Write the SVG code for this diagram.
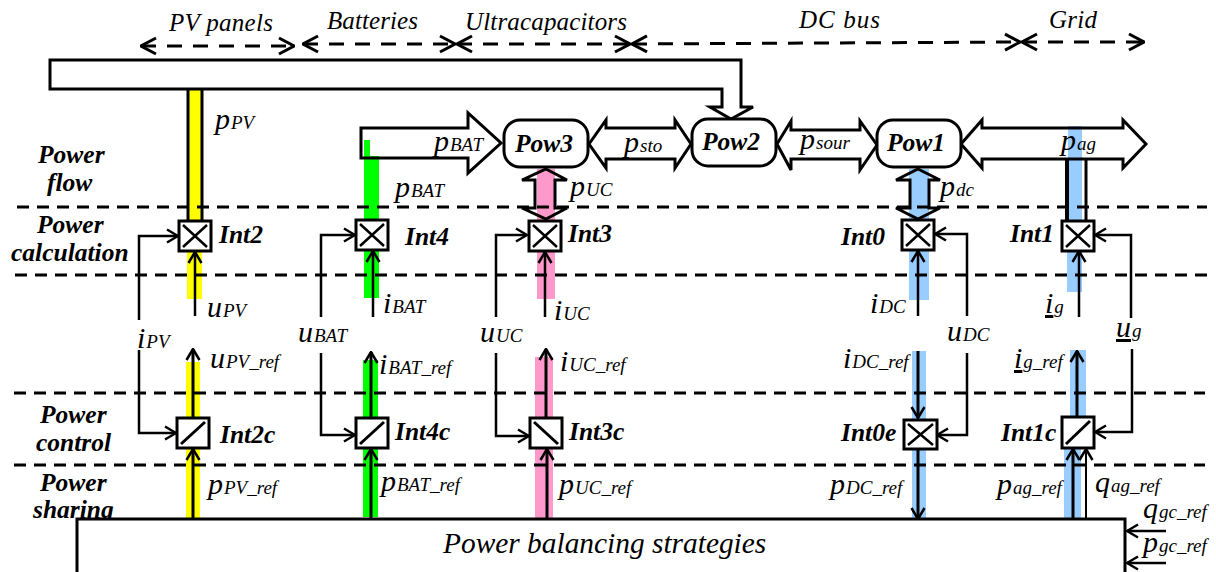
<svg xmlns="http://www.w3.org/2000/svg" width="1216" height="572" viewBox="0 0 1216 572">
<defs>
<marker id="ah" viewBox="0 0 14 16" refX="13" refY="8" markerWidth="14" markerHeight="16" markerUnits="userSpaceOnUse" orient="auto-start-reverse"><path d="M2 1.500 L13 8 L2 14.500" fill="none" stroke="#000" stroke-width="2.500"/></marker>
<marker id="sh" viewBox="0 0 18 20" refX="17" refY="10" markerWidth="18" markerHeight="20" markerUnits="userSpaceOnUse" orient="auto-start-reverse"><path d="M2 2 L17 10 L2 18" fill="none" stroke="#000" stroke-width="3"/></marker>
</defs>
<style>
text{font-family:"Liberation Serif","Times New Roman",serif;fill:#000}
.t{font-style:italic;font-size:25px}
.h{font-style:italic;font-weight:bold;font-size:25.500px}
.n{font-style:italic;font-weight:bold;font-size:25.500px}
.m{font-style:italic;font-size:30px}
.s{font-size:19px}
.bw{fill:none;stroke:#000;stroke-width:3}
.ow{fill:none;stroke:#000;stroke-width:3}
.box{fill:#fff;stroke:#000;stroke-width:3}
.x{fill:none;stroke:#000;stroke-width:2.500}
.l{fill:none;stroke:#000;stroke-width:3}
.a{fill:none;stroke:#000;stroke-width:2.500;marker-end:url(#ah)}
.d{fill:none;stroke:#000;stroke-width:3;stroke-dasharray:12 8}
.r{fill:none;stroke:#000;stroke-width:3;stroke-dasharray:15 11;marker-start:url(#sh);marker-end:url(#sh)}
.y{fill:#ffff00}.g{fill:#00ff00}.k{fill:#ff99cc}.b{fill:#99ccff}
</style>

<g id="bands">
<rect class="y" x="188" y="89" width="14" height="132"/>
<rect class="y" x="187" y="251" width="15" height="48"/>
<rect class="y" x="186" y="362" width="14" height="158"/>
<rect class="g" x="364" y="140" width="6" height="18"/>
<rect class="g" x="364" y="156" width="15" height="142"/>
<rect class="g" x="363" y="360" width="15" height="157"/>
<rect class="k" x="537" y="169" width="18" height="130"/>
<rect class="k" x="535" y="357" width="18" height="163"/>
<rect class="b" x="909" y="169" width="20" height="131"/>
<rect class="b" x="912" y="351" width="14" height="169"/>
<rect class="b" x="1068" y="126" width="14" height="95"/>
<rect class="b" x="1067" y="251" width="15" height="41"/>
<rect class="b" x="1070" y="350" width="16" height="68"/>
<rect class="b" x="1064" y="448" width="17" height="72"/>
</g>

<g id="section-labels">
<text class="t" x="169" y="31" textLength="104">PV panels</text>
<text class="t" x="327" y="29" textLength="91">Batteries</text>
<text class="t" x="465" y="30" textLength="162">Ultracapacitors</text>
<text class="t" x="799" y="28" textLength="81">DC bus</text>
<text class="t" x="1049" y="28" textLength="48">Grid</text>
<text class="h" x="38" y="163">Power</text>
<text class="h" x="47" y="191">flow</text>
<text class="h" x="37" y="233">Power</text>
<text class="h" x="11" y="261">calculation</text>
<text class="h" x="40" y="423">Power</text>
<text class="h" x="36" y="451">control</text>
<text class="h" x="40" y="491">Power</text>
<text class="h" x="33" y="518">sharing</text>
</g>

<g id="connectors">
<path class="r" d="M141 46H294"/>
<path class="r" d="M303 44H455"/>
<path class="r" d="M457 44H630"/>
<path class="r" d="M632 44L1020 42"/>
<path class="r" d="M1022 42H1144"/>
<path class="d" d="M17 207H1207"/>
<path class="d" d="M15 275H1207"/>
<path class="d" d="M14 393H1205"/>
<path class="d" d="M14 465H1205"/>
<path class="bw" d="M50 60H741V107H753L731 119L710 107H722V89H50Z"/>
<path class="ow" d="M188 89V221M202 89V221"/>
<path class="ow" d="M361 128H468V113L501 143L468 173V158H361Z"/>
<path class="ow" d="M589 144L606 120V128H675V120L691 144L675 168V159H606V168Z"/>
<path class="ow" d="M777 144L791 121V130H860V121L877 145L860 170V159H791V170Z"/>
<path class="ow" d="M961 144L982 120V128H1123V120L1146 144L1123 168V159H982V168Z"/>
<path class="ow" d="M546 169L567 180H555V208H567L546 219L522 208H535V180H522Z"/>
<path class="ow" d="M918 169L940 180H929V208H940L918 219L896 208H910V180H896Z"/>
<path class="l" d="M1067 159V221" style="stroke-width:4"/>
<path class="l" d="M1086 159V221"/>

<path class="a" d="M195 316V252"/>
<path class="a" d="M139 320V236H178"/>
<path class="a" d="M139 350V433H176"/>
<path class="a" d="M193 519V449" style="stroke-width:3"/>
<path class="a" d="M193 418V349" style="stroke-width:3"/>

<path class="a" d="M373 317V251"/>
<path class="a" d="M321 317V235H355"/>
<path class="a" d="M321 353V435H355"/>
<path class="a" d="M371 519V449" style="stroke-width:3"/>
<path class="a" d="M371 418V352" style="stroke-width:3"/>

<path class="a" d="M545 317V252"/>
<path class="a" d="M496 317V235H527"/>
<path class="a" d="M496 353V436H529"/>
<path class="a" d="M547 519V449" style="stroke-width:3"/>
<path class="a" d="M546 418V349" style="stroke-width:3"/>

<path class="a" d="M918 316V251"/>
<path class="a" d="M967 316V234H935"/>
<path class="a" d="M967 353V435H937"/>
<path class="a" d="M918 351V418" style="stroke-width:3"/>
<path class="a" d="M918 449V519" style="stroke-width:3"/>

<path class="a" d="M1079 317V251"/>
<path class="a" d="M1131 318V235H1095"/>
<path class="a" d="M1132 349V432H1095"/>
<path class="a" d="M1077 417V351" style="stroke-width:3"/>
<path class="a" d="M1073 519V449" style="stroke-width:3"/>
<path class="a" d="M1086 519V449" style="stroke-width:2"/>
<path class="a" d="M1166 531H1127"/>
<path class="a" d="M1166 563H1127"/>
</g>

<g id="Pow3"><rect class="box" x="504" y="120" width="84" height="47" rx="16"/><text class="n" x="515" y="152">Pow3</text></g>
<g id="Pow2"><rect class="box" x="692" y="119" width="84" height="47" rx="16"/><text class="n" x="702" y="150">Pow2</text></g>
<g id="Pow1"><rect class="box" x="877" y="120" width="84" height="47" rx="16"/><text class="n" x="887" y="151">Pow1</text></g>

<g id="Int2"><rect class="box" x="179" y="221" width="32" height="30"/><path class="x" d="M183 225L207 247M207 225L183 247"/><text class="n" x="219" y="243">Int2</text></g>
<g id="Int4"><rect class="box" x="356" y="220" width="32" height="30"/><path class="x" d="M360 224L384 246M384 224L360 246"/><text class="n" x="405" y="245">Int4</text></g>
<g id="Int3"><rect class="box" x="529" y="221" width="32" height="30"/><path class="x" d="M533 225L557 247M557 225L533 247"/><text class="n" x="568" y="242">Int3</text></g>
<g id="Int0"><rect class="box" x="902" y="220" width="32" height="30"/><path class="x" d="M906 224L930 246M930 224L906 246"/><text class="n" x="841" y="245">Int0</text></g>
<g id="Int1"><rect class="box" x="1062" y="221" width="32" height="30"/><path class="x" d="M1066 225L1090 247M1090 225L1066 247"/><text class="n" x="1010" y="242">Int1</text></g>
<g id="Int2c"><rect class="box" x="177" y="418" width="32" height="30"/><path class="x" style="stroke-width:3" d="M181 444L205 422"/><text class="n" x="220" y="443">Int2c</text></g>
<g id="Int4c"><rect class="box" x="356" y="418" width="32" height="30"/><path class="x" style="stroke-width:3" d="M360 444L384 422"/><text class="n" x="395" y="440">Int4c</text></g>
<g id="Int3c"><rect class="box" x="530" y="418" width="32" height="30"/><path class="x" style="stroke-width:3" d="M534 422L558 444"/><text class="n" x="569" y="440">Int3c</text></g>
<g id="Int0e"><rect class="box" x="904" y="420" width="33" height="29"/><path class="x" d="M908 424L933 445M933 424L908 445"/><text class="n" x="841" y="441">Int0e</text></g>
<g id="Int1c"><rect class="box" x="1062" y="417" width="32" height="31"/><path class="x" style="stroke-width:3" d="M1066 444L1090 421"/><text class="n" x="1001" y="441">Int1c</text></g>

<g id="balance"><rect x="77" y="519" width="1048" height="60" fill="#fff" stroke="#000" stroke-width="3"/><text x="443" y="553" style="font-style:italic;font-size:29.400px">Power balancing strategies</text></g>

<g id="math">
<text class="m" x="215" y="129">p<tspan class="s" dx="1">PV</tspan></text>
<text class="m" x="434" y="151">p<tspan class="s" dx="1">BAT</tspan></text>
<text class="m" x="395" y="197">p<tspan class="s" dx="1">BAT</tspan></text>
<text class="m" x="624" y="152">p<tspan class="s" dx="1">sto</tspan></text>
<text class="m" x="800" y="149">p<tspan class="s" dx="1">sour</tspan></text>
<text class="m" x="1061" y="150">p<tspan class="s" dx="1">ag</tspan></text>
<text class="m" x="570" y="196">p<tspan class="s" dx="1">UC</tspan></text>
<text class="m" x="940" y="196">p<tspan class="s" dx="1">dc</tspan></text>
<text class="m" x="207" y="317">u<tspan class="s" dx="1">PV</tspan></text>
<text class="m" x="383" y="313">i<tspan class="s" dx="1">BAT</tspan></text>
<text class="m" x="554" y="320">i<tspan class="s" dx="1">UC</tspan></text>
<text class="m" x="870" y="313">i<tspan class="s" dx="1">DC</tspan></text>
<text class="m" x="1045" y="313"><tspan text-decoration="underline">i</tspan><tspan class="s" dx="1">g</tspan></text>
<text class="m" x="137" y="348">i<tspan class="s" dx="1">PV</tspan></text>
<text class="m" x="298" y="342">u<tspan class="s" dx="1">BAT</tspan></text>
<text class="m" x="480" y="342">u<tspan class="s" dx="1">UC</tspan></text>
<text class="m" x="947" y="341">u<tspan class="s" dx="1">DC</tspan></text>
<text class="m" x="1116" y="337"><tspan text-decoration="underline">u</tspan><tspan class="s" dx="1">g</tspan></text>
<text class="m" x="210" y="368">u<tspan class="s" dx="1">PV_ref</tspan></text>
<text class="m" x="379" y="374">i<tspan class="s" dx="1">BAT_ref</tspan></text>
<text class="m" x="560" y="371">i<tspan class="s" dx="1">UC_ref</tspan></text>
<text class="m" x="843" y="368">i<tspan class="s" dx="1">DC_ref</tspan></text>
<text class="m" x="1014" y="368"><tspan text-decoration="underline">i</tspan><tspan class="s" dx="1">g_ref</tspan></text>
<text class="m" x="208" y="494">p<tspan class="s" dx="1">PV_ref</tspan></text>
<text class="m" x="381" y="491">p<tspan class="s" dx="1">BAT_ref</tspan></text>
<text class="m" x="559" y="494">p<tspan class="s" dx="1">UC_ref</tspan></text>
<text class="m" x="830" y="494">p<tspan class="s" dx="1">DC_ref</tspan></text>
<text class="m" x="997" y="494">p<tspan class="s" dx="1">ag_ref</tspan></text>
<text class="m" x="1095" y="492">q<tspan class="s" dx="1">ag_ref</tspan></text>
<text class="m" x="1143" y="518">q<tspan class="s" dx="1">gc_ref</tspan></text>
<text class="m" x="1143" y="552">p<tspan class="s" dx="1">gc_ref</tspan></text>
</g>
</svg>
